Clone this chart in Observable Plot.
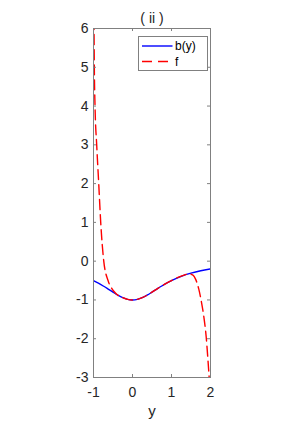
<!DOCTYPE html>
<html><head><meta charset="utf-8">
<script src="https://cdn.jsdelivr.net/npm/d3@7"></script>
<script src="https://cdn.jsdelivr.net/npm/@observablehq/plot@0.6"></script>
<style>body{margin:0;background:#fff}</style>
</head><body><div id="chart"></div>
<script>
const titleText = "( ii )";
const xLabel = "y";
const xTicks = [-1, 0, 1, 2];
const yTicks = [-3, -2, -1, 0, 1, 2, 3, 4, 5, 6];
const seriesNames = ["b(y)", "f"];
const bX = [-1, -0.875, -0.75, -0.625, -0.5, -0.375, -0.25, -0.125, 0, 0.125, 0.25, 0.375, 0.5, 0.625, 0.75, 0.875, 1, 1.25, 1.5, 1.75, 2];
const bY = [-0.5, -0.566, -0.64, -0.719, -0.8, -0.877, -0.941, -0.985, -1, -0.985, -0.941, -0.877, -0.8, -0.719, -0.64, -0.566, -0.5, -0.39, -0.308, -0.246, -0.2];
const fX = [-1, -0.987, -0.979, -0.961, -0.918, -0.866, -0.815, -0.737, -0.627, -0.52, -0.45, -0.375, -0.25, -0.125, 0, 0.125, 0.25, 0.375, 0.5, 0.625, 0.75, 0.875, 1, 1.25, 1.45, 1.55, 1.62, 1.7, 1.76, 1.83, 1.89, 1.93, 1.965, 2.0];
const fY = [7, 6, 5, 4, 3, 2, 1, 0, -0.5, -0.72, -0.81, -0.88, -0.94, -0.985, -1, -0.985, -0.941, -0.877, -0.8, -0.719, -0.64, -0.566, -0.5, -0.385, -0.33, -0.36, -0.47, -0.72, -1.01, -1.44, -1.96, -2.48, -2.99, -3.6];

const bData = bX.map((x, i) => ({x, y: bY[i]}));
const fData = fX.map((x, i) => ({x, y: fY[i]}));
const font = "'Liberation Sans', Arial, Helvetica, sans-serif";
const fmt = d => String(d).replace("\u2212", "-");

const chart = Plot.plot({
  width: 291, height: 427,
  marginLeft: 93, marginRight: 81, marginTop: 28, marginBottom: 50,
  x: {domain: [-1, 2]},
  y: {domain: [-3, 6]},
  style: {fontFamily: font, fontSize: "14px", color: "#262626", background: "#fff"},
  marks: [
    Plot.line(bData, {x: "x", y: "y", stroke: "#0000ff", strokeWidth: 1.4, curve: "monotone-x", clip: true}),
    Plot.line(fData, {x: "x", y: "y", stroke: "#ff0000", strokeWidth: 1.4, strokeDasharray: "10,5", curve: "monotone-x", clip: true}),
    Plot.frame({stroke: "#808080", strokeWidth: 1}),
    Plot.axisX({ticks: xTicks, tickFormat: fmt, tickSize: 0, tickPadding: 10, label: null, fontSize: 14}),
    Plot.axisY({ticks: yTicks, tickFormat: fmt, tickSize: 0, tickPadding: 5, label: null, fontSize: 14}),
    Plot.text([titleText], {frameAnchor: "top", lineAnchor: "middle", dy: -10, fontSize: 14}),
    Plot.text([xLabel], {frameAnchor: "bottom", lineAnchor: "middle", dy: 34, fontSize: 15})
  ]
});
document.getElementById("chart").appendChild(chart);

const svg = d3.select(chart);
const sx = chart.scale("x"), sy = chart.scale("y");
const x0 = sx.apply(-1), x1 = sx.apply(2), y0 = sy.apply(-3), y1 = sy.apply(6);
const g = svg.append("g").attr("stroke", "#808080").attr("stroke-width", 1);
const tl = 3;
xTicks.forEach(t => {
  const px = sx.apply(t) + 0.5;
  g.append("line").attr("x1", px).attr("x2", px).attr("y1", y0).attr("y2", y0 - tl);
  g.append("line").attr("x1", px).attr("x2", px).attr("y1", y1).attr("y2", y1 + tl);
});
yTicks.forEach(t => {
  const py = sy.apply(t) + 0.5;
  g.append("line").attr("x1", x0).attr("x2", x0 + tl).attr("y1", py).attr("y2", py);
  g.append("line").attr("x1", x1).attr("x2", x1 - tl).attr("y1", py).attr("y2", py);
});

// legend
const lg = svg.append("g").attr("font-family", font).attr("font-size", 12).attr("fill", "#000").attr("text-anchor", "start");
lg.append("rect").attr("x", 138.5).attr("y", 36.5).attr("width", 69).attr("height", 34)
  .attr("fill", "#fff").attr("stroke", "#808080").attr("stroke-width", 1);
const styles = [{stroke: "#0000ff", dash: null}, {stroke: "#ff0000", dash: "10,6"}];
seriesNames.forEach((name, i) => {
  const cy = 46 + i * 15.5;
  const ln = lg.append("line").attr("x1", 142).attr("x2", 172.5).attr("y1", cy).attr("y2", cy)
    .attr("stroke", styles[i].stroke).attr("stroke-width", 1.4);
  if (styles[i].dash) ln.attr("stroke-dasharray", styles[i].dash);
  lg.append("text").attr("x", 175).attr("y", cy).attr("dy", "0.36em").attr("text-anchor", "start").text(name);
});
</script></body></html>
